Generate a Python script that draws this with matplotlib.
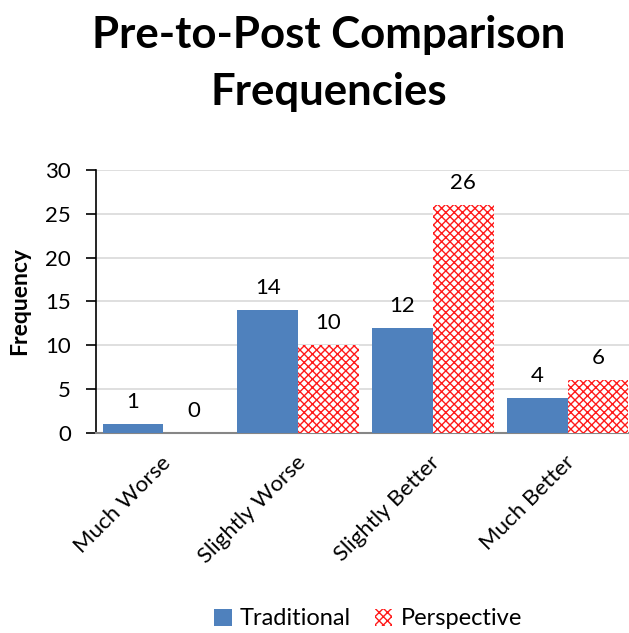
import matplotlib.pyplot as plt
import matplotlib.transforms as mtransforms
import numpy as np

plt.rcParams['font.family'] = ['Lato', 'DejaVu Sans']
plt.rcParams['hatch.linewidth'] = 1.0

categories = ['Much Worse', 'Slightly Worse', 'Slightly Better', 'Much Better']
traditional = [1, 14, 12, 4]
perspective = [0, 10, 26, 6]

fig = plt.figure(figsize=(6.29, 6.33), dpi=100)
ax = fig.add_axes([0.1526, 0.3160, 0.857, 0.4155])

x = np.arange(len(categories))
w = 0.45
b1 = ax.bar(x - w / 2, traditional, w, color='#4F81BD', label='Traditional', zorder=3)
b2 = ax.bar(x + w / 2, perspective, w, color='white', edgecolor='#FF1A1A', hatch='xxxx',
            linewidth=0, label='Perspective', zorder=3)

for bars in (b1, b2):
    for r in bars:
        ax.annotate(f'{int(r.get_height())}', (r.get_x() + r.get_width() / 2, r.get_height()),
                    xytext=(0, 12), textcoords='offset pixels',
                    ha='center', va='bottom', fontsize=16)

ax.set_xlim(-0.5, 3.5)
ax.set_ylim(0, 30)
ax.set_yticks(range(0, 31, 5))
ax.yaxis.grid(True, color='#D9D9D9', linewidth=1.2, zorder=0)
ax.set_axisbelow(True)
ax.tick_params(axis='y', length=7, width=1.2, labelsize=16, pad=11, color='black')
ax.tick_params(axis='x', length=0, labelsize=16, pad=14)
ax.set_xticks(x)
ax.set_xticklabels(categories, rotation=45, ha='right', va='top', rotation_mode='anchor')
shift = mtransforms.ScaledTranslation(-0.03, 0, fig.dpi_scale_trans)
for lbl in ax.get_xticklabels():
    lbl.set_transform(lbl.get_transform() + shift)
for s in ['top', 'right']:
    ax.spines[s].set_visible(False)
ax.spines['left'].set_color('black')
ax.spines['left'].set_linewidth(1.2)
ax.spines['bottom'].set_color('#868686')
ax.spines['bottom'].set_linewidth(1.5)
ax.set_ylabel('Frequency', fontsize=16.5, fontweight='bold', labelpad=11)

fig.text(0.522, 0.977, 'Pre-to-Post Comparison\nFrequencies', fontsize=31.5, fontweight='bold',
         ha='center', va='top', linespacing=1.53)

fig.legend(handles=[b1, b2], loc='lower center', bbox_to_anchor=(0.585, -0.028), ncol=2,
           frameon=False, fontsize=17, handlelength=0.75, handleheight=0.75,
           handletextpad=0.35, columnspacing=1.0)

plt.savefig('out.png', dpi=100)
